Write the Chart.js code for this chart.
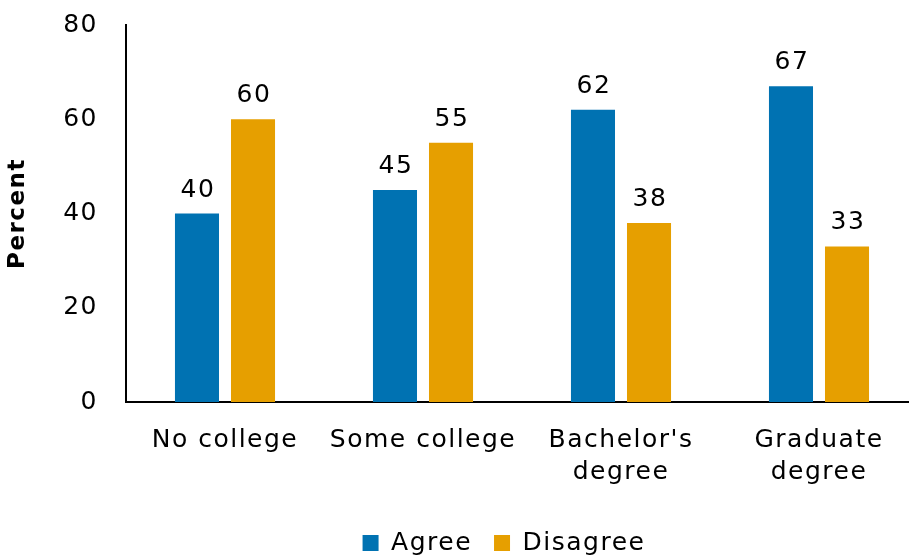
<!DOCTYPE html>
<html>
<head>
<meta charset="utf-8">
<script src="https://cdn.jsdelivr.net/npm/chart.js@4"></script>
<style>
  html, body { margin: 0; padding: 0; background: #fff; overflow: hidden; }
  #wrap { width: 930px; height: 556px; position: relative; }
</style>
</head>
<body>
<div id="wrap"><canvas id="c"></canvas></div>
<script>
const categories = [["No college"], ["Some college"], ["Bachelor's", "degree"], ["Graduate", "degree"]];
const agree = [40, 45, 62, 67];
const disagree = [60, 55, 38, 33];
const seriesNames = ["Agree", "Disagree"];
const yTicks = [0, 20, 40, 60, 80];

const FONT = "'DejaVu Sans', sans-serif";
const LS = '1.5px';

const spacingPlugin = {
  id: 'spacing',
  beforeUpdate(chart) { chart.ctx.letterSpacing = LS; },
  beforeLayout(chart) { chart.ctx.letterSpacing = LS; },
  beforeDraw(chart) { chart.ctx.letterSpacing = LS; }
};

const legendPlace = {
  id: 'legendPlace',
  afterLayout(chart) {
    const lg = chart.legend;
    if (!lg) return;
    const w = lg.right - lg.left;
    const h = lg.bottom - lg.top;
    const p = lg.options.labels.padding;
    lg.left = 504 - w / 2;
    lg.right = 504 + w / 2;
    lg.top = 530.5 - p;
    lg.bottom = lg.top + h;
  }
};

const valueLabels = {
  id: 'valueLabels',
  afterDatasetsDraw(chart) {
    const ctx = chart.ctx;
    ctx.save();
    ctx.letterSpacing = LS;
    ctx.font = "25px " + FONT;
    ctx.fillStyle = '#000';
    ctx.textAlign = 'center';
    ctx.textBaseline = 'alphabetic';
    chart.data.datasets.forEach((ds, i) => {
      const meta = chart.getDatasetMeta(i);
      meta.data.forEach((bar, j) => {
        ctx.fillText(String(ds.data[j]), bar.x + 1, bar.y - 17);
      });
    });
    ctx.restore();
  }
};

Chart.defaults.color = '#000';
Chart.defaults.font.family = FONT;

new Chart(document.getElementById('c'), {
  type: 'bar',
  data: {
    labels: categories,
    datasets: [
      { label: seriesNames[0], data: agree, backgroundColor: '#0072B2',
        categoryPercentage: 0.566, barPercentage: 0.786 },
      { label: seriesNames[1], data: disagree, backgroundColor: '#E69F00',
        categoryPercentage: 0.566, barPercentage: 0.786 }
    ]
  },
  options: {
    responsive: true,
    maintainAspectRatio: false,
    animation: false,
    layout: { padding: { top: 25, left: 0, right: 12, bottom: 0 } },
    plugins: {
      legend: {
        position: 'bottom',
        labels: { font: { size: 25, family: FONT }, color: '#000', boxWidth: 16, boxHeight: 16, padding: 22 }
      },
      tooltip: { enabled: false }
    },
    scales: {
      x: {
        grid: { display: false, drawTicks: false },
        border: { display: true, color: '#000', width: 2 },
        ticks: { font: { size: 25, lineHeight: 1.28 }, padding: 22, maxRotation: 0, autoSkip: false },
        afterFit(scale) { scale.height = 97; }
      },
      y: {
        min: 0, max: 80,
        afterBuildTicks(scale) { scale.ticks = yTicks.map(v => ({ value: v })); },
        grid: { display: false, drawTicks: false },
        border: { display: true, color: '#000', width: 2 },
        ticks: { font: { size: 25 }, padding: 28 },
        title: { display: true, text: 'Percent', font: { size: 23, weight: 'bold' }, padding: { top: 4, bottom: 0 } },
        afterFit(scale) { scale.width = 126; scale.paddingTop = 0; scale.paddingBottom = 0; }
      }
    }
  },
  plugins: [spacingPlugin, legendPlace, valueLabels]
});
</script>
</body>
</html>
